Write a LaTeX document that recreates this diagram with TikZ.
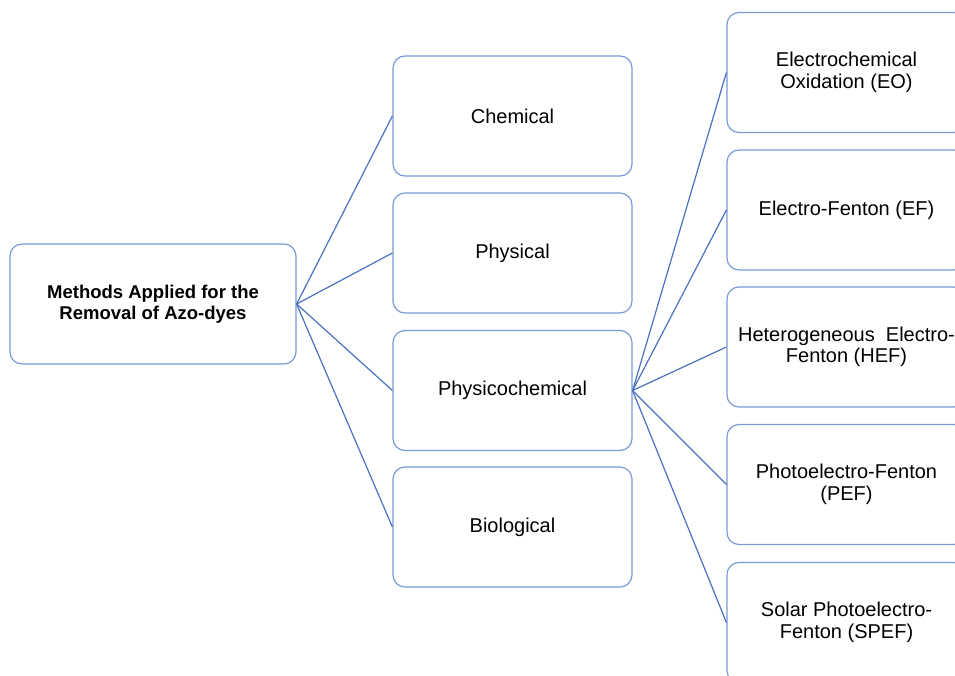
\documentclass[tikz,border=0pt]{standalone}
\usepackage{fontspec}
\setmainfont{Liberation Sans}
\begin{document}
\begin{tikzpicture}[x=1pt,y=-1pt,
  box/.style={draw=boxblue, line width=1.2pt, rounded corners=12pt, fill=white,
    minimum width=239pt, minimum height=120pt, align=center, inner sep=0pt,
    font=\fontsize{20}{21.5}\selectfont, text=black},
  link/.style={draw=lineblue, line width=1.2pt}]
\definecolor{boxblue}{HTML}{7A9AD6}
\definecolor{lineblue}{HTML}{4A72C0}
\clip (0,0) rectangle (955,676);
\fill[white] (0,0) rectangle (955,676);
\node[box, minimum width=286pt, font=\fontsize{18.5}{21.5}\selectfont\bfseries] (root) at (153,304) {Methods Applied for the\\Removal of Azo-dyes};
\node[box] (chem) at (512.5,116) {Chemical};
\node[box] (phys) at (512.5,253) {Physical};
\node[box] (pc) at (512.5,390.5) {Physicochemical};
\node[box] (bio) at (512.5,527) {Biological};
\node[box] (eo) at (846.5,72.5) {Electrochemical\\Oxidation (EO)};
\node[box] (ef) at (846.5,210) {Electro-Fenton (EF)};
\node[box] (hef) at (846.5,347) {Heterogeneous\ \ Electro-\\Fenton (HEF)};
\node[box] (pef) at (846.5,484.5) {Photoelectro-Fenton\\(PEF)};
\node[box] (spef) at (846.5,622.5) {Solar Photoelectro-\\Fenton (SPEF)};
\foreach \t in {chem,phys,pc,bio} \draw[link] (root.east) -- (\t.west);
\foreach \t in {eo,ef,hef,pef,spef} \draw[link] (pc.east) -- (\t.west);
\end{tikzpicture}
\end{document}
